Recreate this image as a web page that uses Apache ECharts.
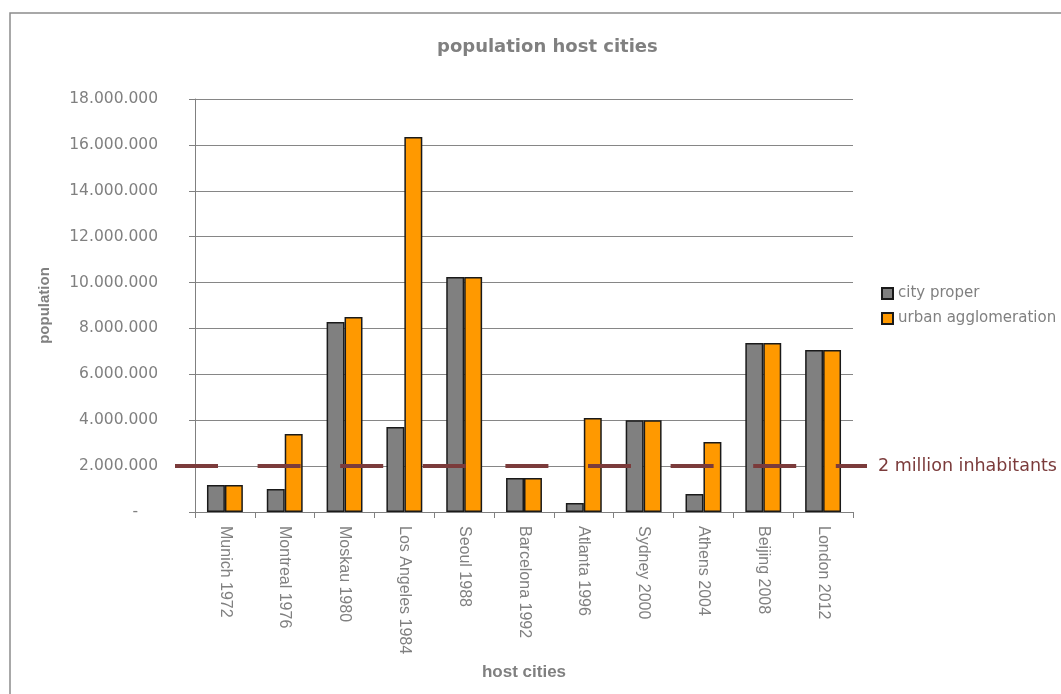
<!DOCTYPE html>
<html>
<head>
<meta charset="utf-8">
<script src="https://cdn.jsdelivr.net/npm/echarts@6/dist/echarts.min.js"></script>
<style>
html,body{margin:0;padding:0;background:#fff;}
#chart{width:1061px;height:694px;}
</style>
</head>
<body>
<div id="chart"></div>
<script>
const categories = ['Munich 1972','Montreal 1976','Moskau 1980','Los Angeles 1984','Seoul 1988','Barcelona 1992','Atlanta 1996','Sydney 2000','Athens 2004','Beijing 2008','London 2012'];
const cityProper = [1180000, 1000000, 8280000, 3700000, 10240000, 1480000, 390000, 4000000, 780000, 7370000, 7060000];
const urbanAgglomeration = [1180000, 3400000, 8500000, 16340000, 10240000, 1480000, 4100000, 4000000, 3050000, 7370000, 7060000];
const thresholdValue = 2000000;
const thresholdLabel = '2 million inhabitants';
const yMin = 0, yMax = 18000000, yStep = 2000000;

function fmt(v){
  if (v === 0) return '{z|-}';
  return String(Math.round(v)).replace(/\B(?=(\d{3})+(?!\d))/g, '.');
}

const chart = echarts.init(document.getElementById('chart'), null, {renderer:'canvas'});
const gray = '#808080';
const lib = 'Liberation Sans, Arial, sans-serif';
const dv = 'DejaVu Sans, Verdana, sans-serif';
chart.setOption({
  animation:false,
  backgroundColor:'#fff',
  title:{
    text:'population host cities',
    left:432, top:33,
    textStyle:{color:gray, fontSize:18, fontWeight:'bold', fontFamily:dv}
  },
  graphic:[{
    type:'rect', silent:true, z:100,
    shape:{x:10, y:13, width:1100, height:720},
    style:{fill:'none', stroke:'#8c8c8c', lineWidth:1.5}
  }],
  legend:{
    data:['city proper','urban agglomeration'],
    orient:'vertical', left:876, top:281,
    itemWidth:11, itemHeight:11, itemGap:10,
    icon:'rect',
    textStyle:{color:gray, fontSize:15, fontFamily:dv}
  },
  grid:[
    {left:195, right:208, top:99, bottom:182},
    {left:175, right:194, top:99, bottom:182}
  ],
  xAxis:[{
    type:'category', data:categories, gridIndex:0,
    axisLine:{lineStyle:{color:gray, width:1}},
    axisTick:{show:true, length:6, lineStyle:{color:gray}},
    axisLabel:{rotate:-90, color:gray, fontSize:16, fontFamily:lib, margin:14},
    name:'host cities', nameLocation:'middle', nameGap:152,
    nameTextStyle:{color:gray, fontSize:17, fontWeight:'bold', fontFamily:lib}
  },{
    type:'value', min:0, max:1, show:false, gridIndex:1
  }],
  yAxis:[{
    type:'value', min:yMin, max:yMax, interval:yStep, gridIndex:0,
    axisLine:{show:true, lineStyle:{color:gray}},
    axisTick:{show:true, length:6, lineStyle:{color:gray}},
    splitLine:{lineStyle:{color:'#868686', width:1}},
    axisLabel:{color:gray, fontSize:15.5, fontFamily:dv, margin:37, formatter:fmt,
      rich:{z:{color:gray, fontSize:15.5, fontFamily:dv, padding:[0,20,0,0]}}},
    name:'population', nameLocation:'middle', nameGap:143, nameRotate:90,
    nameTextStyle:{color:gray, fontSize:15, fontWeight:'bold', fontFamily:lib}
  },{
    type:'value', min:yMin, max:yMax, gridIndex:1, show:false
  }],
  series:[{
    name:'city proper', type:'bar', data:cityProper,
    barGap:'0%', barCategoryGap:'40%',
    itemStyle:{color:'#808080', borderColor:'#1a1a1a', borderWidth:1.5}
  },{
    name:'urban agglomeration', type:'bar', data:urbanAgglomeration,
    itemStyle:{color:'#FF9900', borderColor:'#1a1a1a', borderWidth:1.5}
  },{
    name:thresholdLabel, type:'line', xAxisIndex:1, yAxisIndex:1,
    data:[[0, thresholdValue],[1, thresholdValue]],
    symbol:'none', z:5,
    lineStyle:{color:'#7b3b3b', width:4, type:[43,39.6]},
    endLabel:{show:true, formatter:thresholdLabel, color:'#7b3b3b', fontSize:17.5, fontFamily:dv, distance:11}
  }]
});
</script>
</body>
</html>
